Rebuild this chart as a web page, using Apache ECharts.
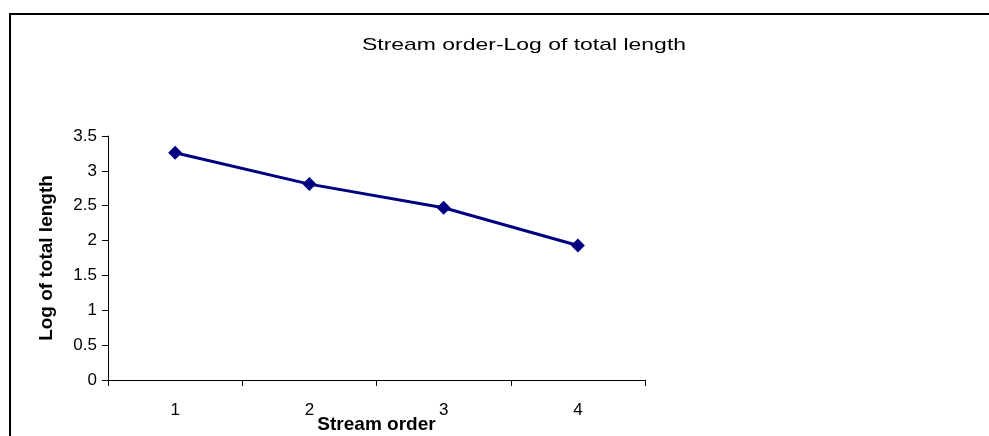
<!DOCTYPE html>
<head>
    <meta charset="utf-8">
    <title>Stream order-Log of total length</title>
    <script type="text/javascript" src="https://cdn.jsdelivr.net/npm/echarts@6/dist/echarts.min.js"></script>
    <style>
        body { margin: 0; background: #fff; }
        #main { width: 989px; height: 436px; }
    </style>
</head>

<body>
<div id="main"></div>

<script type="text/javascript">
    // data
    var streamOrders = ['1', '2', '3', '4'];
    var logLength = [3.26, 2.81, 2.47, 1.93];
    var yTicks = [0, 0.5, 1, 1.5, 2, 2.5, 3, 3.5];

    var myChart = echarts.init(document.getElementById('main'));
    var font = 'Arial, "Liberation Sans", sans-serif';

    var option = {
        backgroundColor: '#fff',
        animation: false,
        textStyle: { fontFamily: font },
        graphic: [
            // outer frame (only top and left edges are visible)
            {
                type: 'rect',
                shape: { x: 10, y: 14, width: 1000, height: 440 },
                style: { fill: null, stroke: '#000', lineWidth: 2 }
            },
            {
                type: 'text',
                x: 524, y: 45,
                scaleX: 1.35,
                style: {
                    text: 'Stream order-Log of total length',
                    font: '17px ' + font,
                    fill: '#000',
                    align: 'center',
                    verticalAlign: 'middle'
                }
            }
        ],
        grid: { left: 108, top: 136, width: 537, height: 244, outerBoundsMode: 'none', containLabel: false },
        xAxis: {
            type: 'category',
            data: streamOrders,
            boundaryGap: true,
            name: 'Stream order',
            nameLocation: 'middle',
            nameGap: 35,
            nameMoveOverlap: false,
            nameTextStyle: { fontSize: 19, fontWeight: 'bold', color: '#000' },
            axisLine: { lineStyle: { color: '#000', width: 1 } },
            axisTick: { show: true, length: 6, inside: false, lineStyle: { color: '#000' } },
            axisLabel: { fontSize: 17, color: '#000', margin: 22 },
            splitLine: { show: false }
        },
        yAxis: {
            type: 'value',
            min: yTicks[0],
            max: yTicks[yTicks.length - 1],
            interval: 0.5,
            name: 'Log of total length',
            nameLocation: 'middle',
            nameGap: 52,
            nameMoveOverlap: false,
            nameRotate: 90,
            nameTextStyle: { fontSize: 19, fontWeight: 'bold', color: '#000' },
            axisLine: { show: true, lineStyle: { color: '#000', width: 1 } },
            axisTick: { show: true, length: 6, inside: false, lineStyle: { color: '#000' } },
            axisLabel: { fontSize: 17, color: '#000', margin: 11 },
            splitLine: { show: false }
        },
        series: [
            {
                type: 'line',
                data: logLength,
                symbol: 'diamond',
                symbolSize: 14,
                itemStyle: { color: '#000080' },
                lineStyle: { color: '#000080', width: 3 }
            }
        ]
    };

    myChart.setOption(option);
</script>
</body>
